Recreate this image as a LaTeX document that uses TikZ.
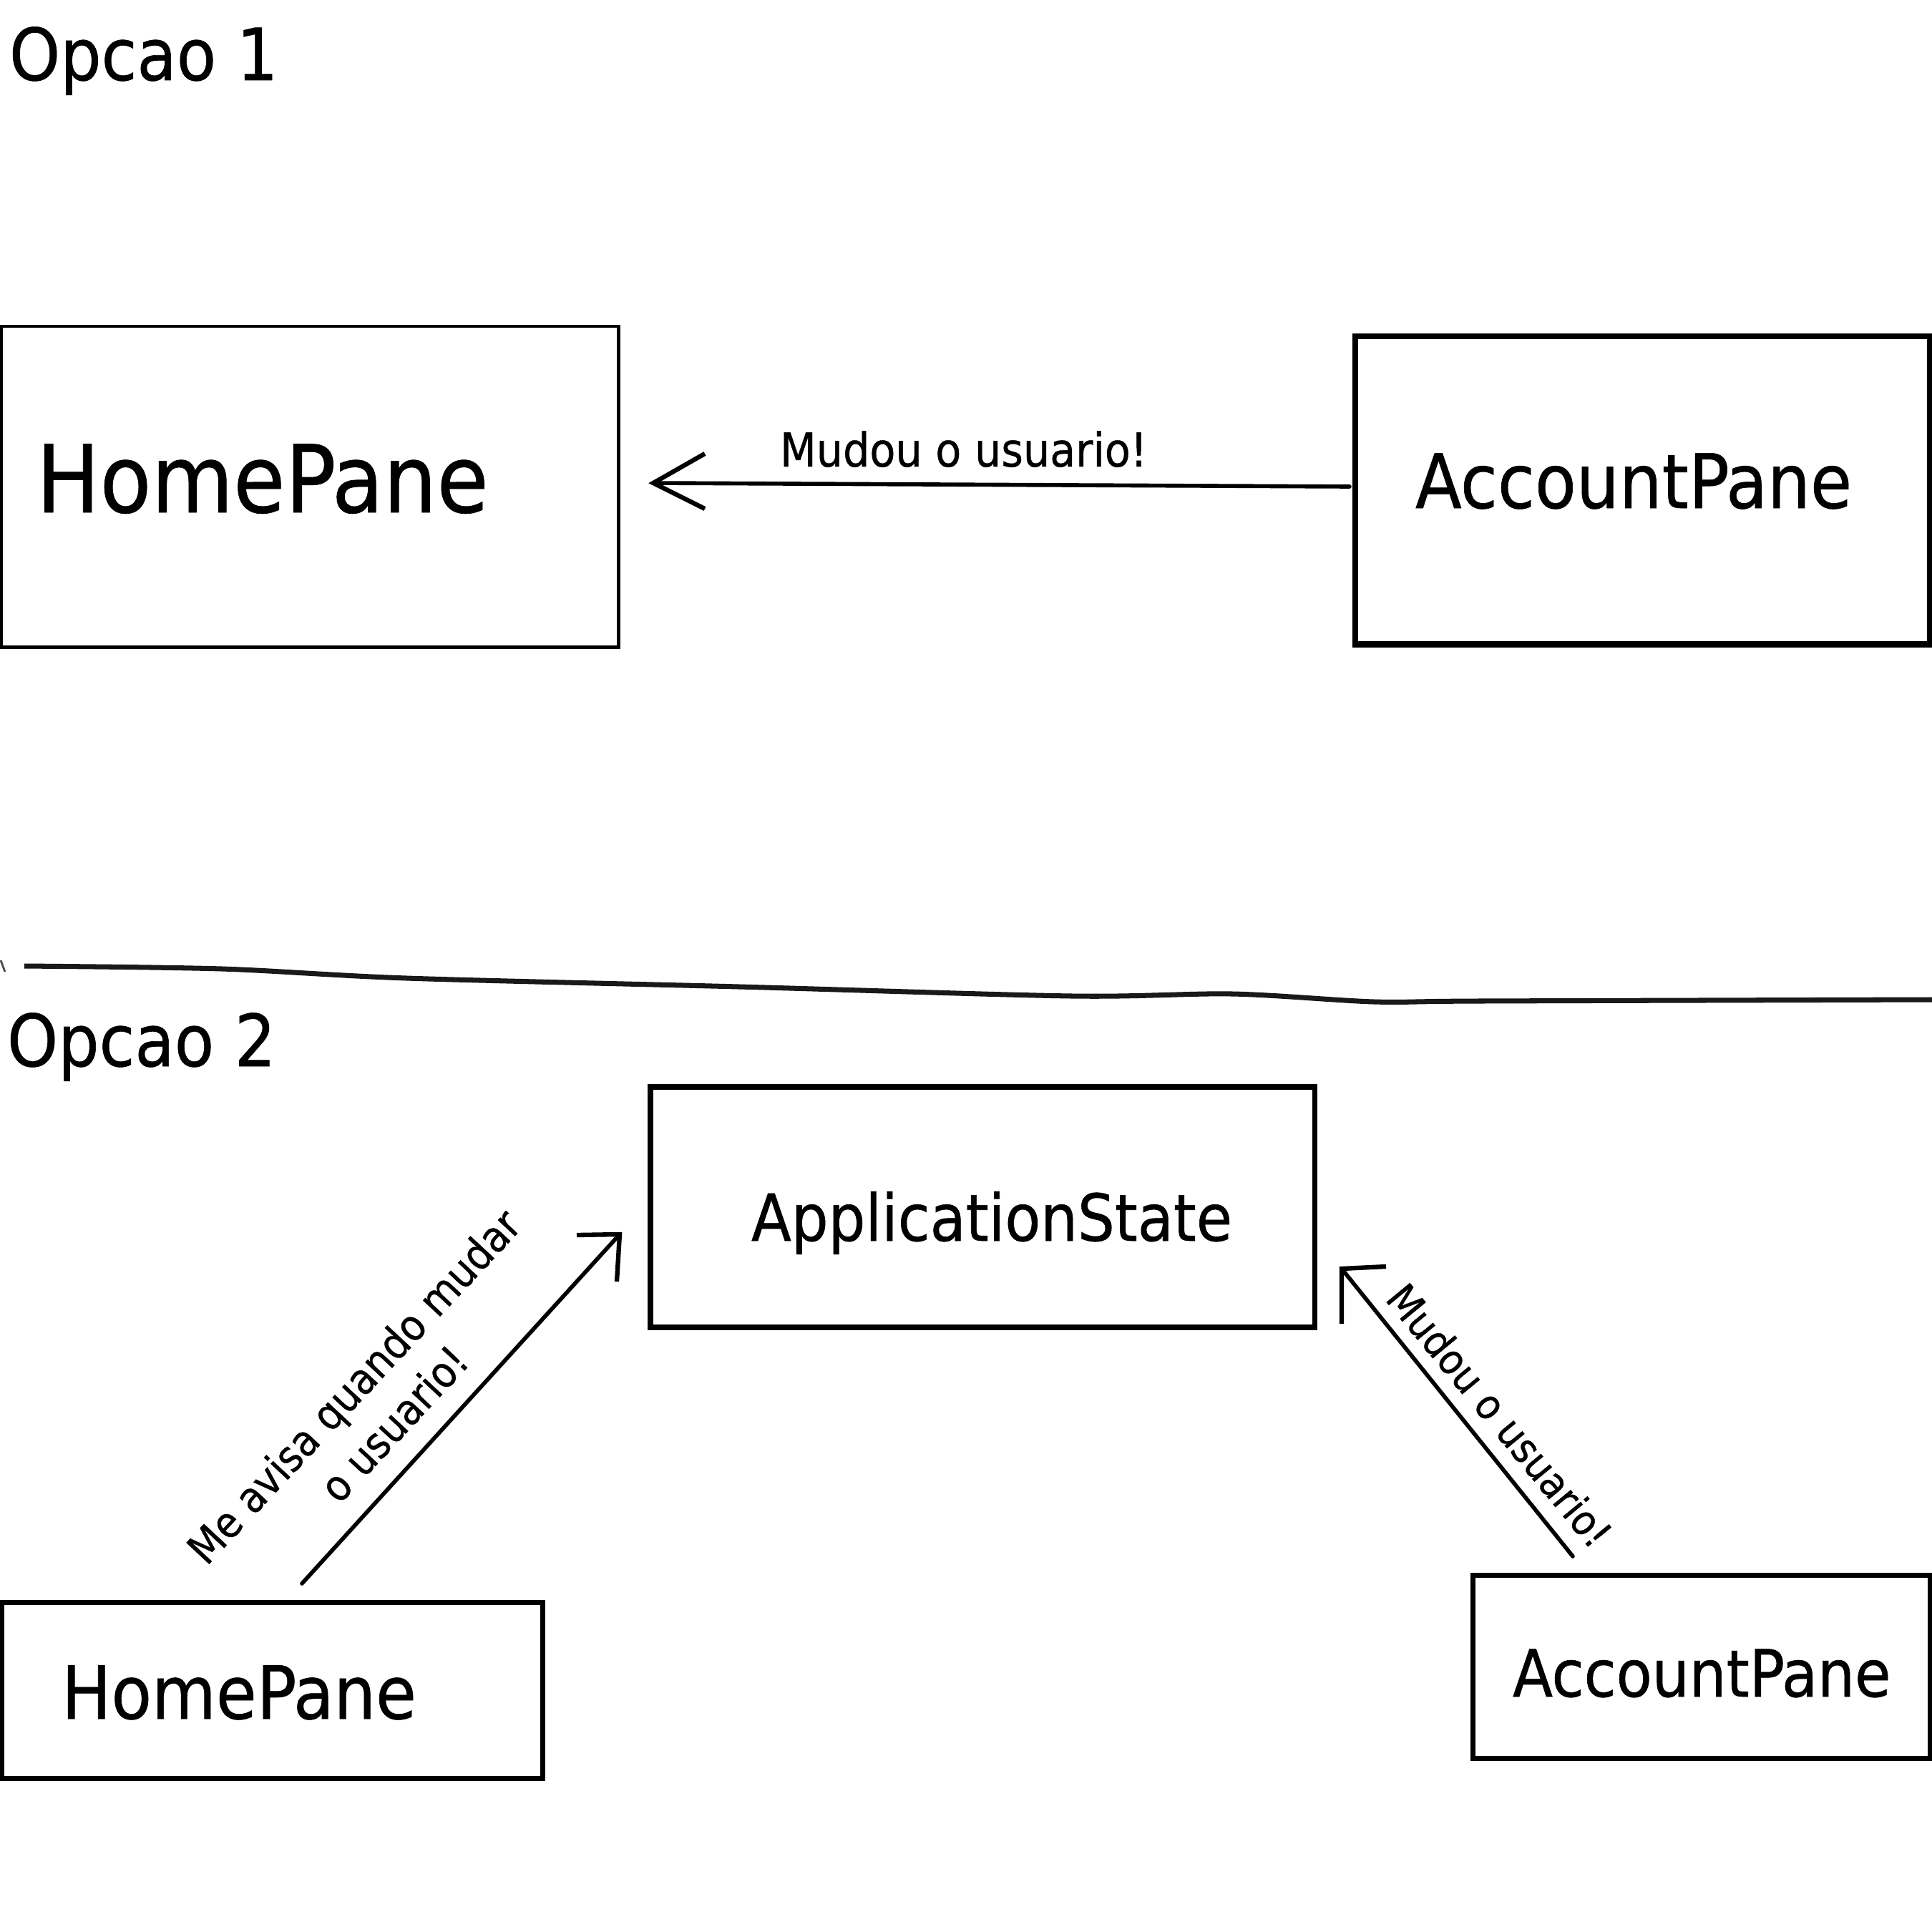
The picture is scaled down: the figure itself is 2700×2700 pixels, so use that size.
\documentclass[tikz,border=0pt]{standalone}
\usepackage{fontspec}
\setmainfont{DejaVu Sans Condensed}[FakeBold=0.6]
\begin{document}
\begin{tikzpicture}[x=0.01cm,y=-0.01cm,
  box/.style={draw, rectangle, inner sep=0pt, outer sep=0pt, anchor=north west},
  lbl/.style={inner sep=0pt, outer sep=0pt, anchor=base west},
  conn/.style={line width=1.6pt, line cap=round},
  head/.style={line width=1.8pt, line join=miter, line cap=butt}]
\useasboundingbox (0,0) rectangle (2700,2700);
\fill[white] (0,0) rectangle (2700,2700);

% ---------- Opcao 1 ----------
\node[lbl, font=\fontsize{28.6pt}{30pt}\selectfont] (op1) at (13,112) {Opcao 1};

\node[box, line width=1.3pt, minimum width=8.62cm, minimum height=4.48cm] (hp1) at (2,456) {};
\node[lbl, font=\fontsize{37.2pt}{40pt}\selectfont] (hp1t) at (51,716) {HomePane};

\node[box, line width=2.5pt, minimum width=8.03cm, minimum height=4.30cm] (ap1) at (1894,470) {};
\node[lbl, font=\fontsize{29.9pt}{32pt}\selectfont] (ap1t) at (1978,710) {AccountPane};

\coordinate (a1tail) at (1886,680);
\coordinate (a1tip) at (913,675);
\coordinate (a1l) at (985,634);
\coordinate (a1r) at (985,711);
\draw[conn] (a1tail) -- (a1tip);
\draw[head] (a1l) -- (a1tip) -- (a1r);
\node[lbl, font=\fontsize{18.6pt}{20pt}\selectfont] (m1) at (1090,652) {Mudou o usuario!};

% ---------- divider ----------
\draw[line width=2pt, black!90] plot[smooth, tension=0.5] coordinates
  {(34,1350) (310,1354) (568,1367) (1033,1379) (1498,1392) (1722,1389) (1920,1400) (2066,1399) (2700,1397)};
\draw[line width=0.8pt, black!70] (1,1342) -- (7,1358);

% ---------- Opcao 2 ----------
\node[lbl, font=\fontsize{28.6pt}{30pt}\selectfont] (op2) at (10,1490) {Opcao 2};

\node[box, line width=2.2pt, minimum width=9.28cm, minimum height=3.36cm] (as) at (909,1519) {};
\node[lbl, font=\fontsize{25.8pt}{28pt}\selectfont] (ast) at (1050,1734) {ApplicationState};

\node[box, line width=2pt, minimum width=7.56cm, minimum height=2.46cm] (hp2) at (2,2239) {};
\node[lbl, font=\fontsize{29.2pt}{30pt}\selectfont] (hp2t) at (86,2402) {HomePane};

\node[box, line width=2pt, minimum width=6.39cm, minimum height=2.56cm] (ap2) at (2058,2201) {};
\node[lbl, font=\fontsize{25.9pt}{28pt}\selectfont] (ap2t) at (2114,2371) {AccountPane};

% left arrow
\coordinate (a2tail) at (422,2213);
\coordinate (a2tip) at (866,1725);
\coordinate (a2l) at (806,1726);
\coordinate (a2r) at (862,1791);
\draw[conn] (a2tail) -- (a2tip);
\draw[head] (a2l) -- (a2tip) -- (a2r);
\node[rotate=47, align=center, inner sep=0pt, font=\fontsize{17pt}{21.8pt}\selectfont] (m2) at (522,1963)
  {Me avisa quando mudar\\o usuario!};

% right arrow
\coordinate (a3tail) at (2198,2175);
\coordinate (a3tip) at (1875,1773);
\coordinate (a3l) at (1937,1770);
\coordinate (a3r) at (1875,1850);
\draw[conn] (a3tail) -- (a3tip);
\draw[head] (a3l) -- (a3tip) -- (a3r);
\node[rotate=-50.5, inner sep=0pt, font=\fontsize{16.5pt}{18pt}\selectfont] (m3) at (2096,1978) {Mudou o usuario!};
\end{tikzpicture}
\end{document}
